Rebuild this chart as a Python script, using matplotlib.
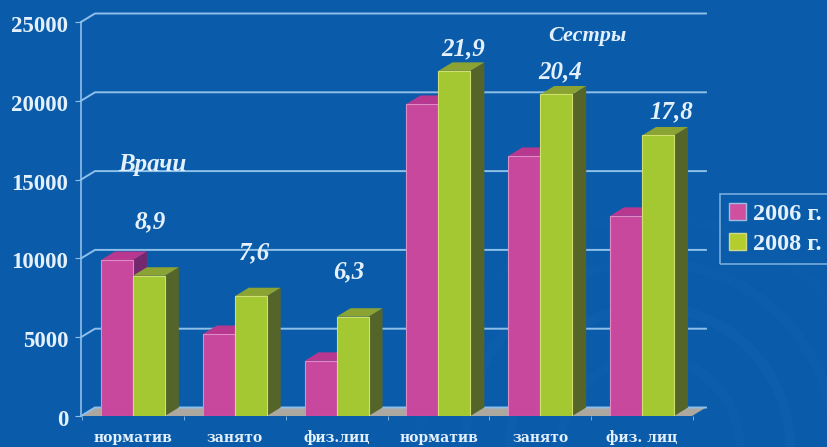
import matplotlib
matplotlib.use('Agg')
import matplotlib.pyplot as plt
from matplotlib.patches import Circle, Patch, Polygon
from matplotlib.transforms import ScaledTranslation

categories = ['норматив', 'занято', 'физ.лиц', 'норматив', 'занято', 'физ. лиц']
values_2006 = [9900, 5200, 3500, 19800, 16500, 12700]
values_2008 = [8900, 7600, 6300, 21900, 20400, 17800]
value_labels = ['8,9', '7,6', '6,3', '21,9', '20,4', '17,8']
y_ticks = [0, 5000, 10000, 15000, 20000, 25000]

W, H = 828, 447
BG = '#0a5cab'
LINE = '#8fc0ea'
TEXT = '#e4f0fb'
SERIF = 'Liberation Serif'
WIDE = 'DejaVu Serif'

# one group = 102 px, one 5000 = 78.8 px, so depth and width are set in data units
bar_w = 32 / 102
dx = 14 / 102
dy = 8.5 / 78.8 * 5000

fig = plt.figure(figsize=(W / 100, H / 100), dpi=100, facecolor=BG)
ax = fig.add_axes([81 / W, 1 - 416 / H, 612 / W, 394 / H])
ax.patch.set_visible(False)
ax.set_xlim(-0.51, 5.49)
ax.set_ylim(0, 25000)

# faint rings in the background, lower right
for r, a in [(90, 0.03), (140, 0.05), (185, 0.035), (230, 0.025)]:
    fig.add_artist(Circle((650, 0), r, transform=None, fill=False,
                          ec='#4f9ad8', lw=7, alpha=a, zorder=0))

# floor and back wall
x0, x1 = ax.get_xlim()
ax.add_patch(Polygon([(x0, 0), (x0 + dx, dy), (x1 + dx, dy), (x1, 0)],
                     fc='#aca79f', ec='none', clip_on=False, zorder=1))
for t in y_ticks:
    ax.plot([x0, x0 + dx, x1 + dx], [t, t + dy, t + dy], color=LINE, lw=1.4,
            clip_on=False, zorder=1.5)


def draw_bar(left, h, front, top, side, edge, z):
    ax.bar(left, h, bar_w, align='edge', color=front, edgecolor=edge, lw=0.8,
           zorder=z + 0.2)
    r = left + bar_w
    ax.add_patch(Polygon([(r, 0), (r + dx, dy), (r + dx, h + dy), (r, h)],
                         fc=side, ec='none', clip_on=False, zorder=z))
    ax.add_patch(Polygon([(left, h), (left + dx, h + dy), (r + dx, h + dy), (r, h)],
                         fc=top, ec='none', clip_on=False, zorder=z + 0.1))


for i in range(len(categories)):
    draw_bar(i - bar_w, values_2006[i], '#c8489e', '#b8388f', '#74286e', '#e08cc4', 2 + i)
    draw_bar(i, values_2008[i], '#a3c832', '#8ba332', '#55652a', '#cfe070', 2.5 + i)

# value labels above the bars
label_x = [0.17, 1.19, 2.12, 3.24, 4.2, 5.29]
label_y = [12310, 10340, 9137, 23290, 21830, 19290]
for x, y, s in zip(label_x, label_y, value_labels):
    ax.text(x, y, s, color=TEXT, family=SERIF, weight='bold', style='italic',
            fontsize=18, ha='center', va='center', zorder=20)
ax.text(0.19, 15930, 'Врачи', color=TEXT, family=SERIF, weight='bold', style='italic',
        fontsize=18, ha='center', va='center', zorder=20)
ax.text(4.46, 24110, 'Сестры', color=TEXT, family=SERIF, weight='bold', style='italic',
        fontsize=16, ha='center', va='center', zorder=20)

for name in ['top', 'right', 'bottom']:
    ax.spines[name].set_visible(False)
ax.spines['left'].set_color(LINE)
ax.spines['left'].set_linewidth(1.2)
ax.spines['left'].set_zorder(1.5)

ax.set_yticks(y_ticks)
ax.set_yticklabels([str(t) for t in y_ticks], family=SERIF, weight='bold', fontsize=16.5)
ax.tick_params(axis='y', colors=TEXT, length=4, pad=5, color=LINE)
# numbers sit a little below their ticks in the reference
shift = ScaledTranslation(0, -2 / 100, fig.dpi_scale_trans)
for lab in ax.get_yticklabels():
    lab.set_transform(lab.get_transform() + shift)

ax.set_xticks(range(len(categories)))
ax.set_xticklabels(categories, family=WIDE, weight='bold', fontsize=10)
for lab in ax.get_xticklabels():
    lab.set_verticalalignment('baseline')
ax.set_xticks([i + 0.5 for i in range(-1, 6)], minor=True)
ax.tick_params(axis='x', which='major', colors=TEXT, length=0, pad=18.5)
ax.tick_params(axis='x', which='minor', color=LINE, length=3)

handles = [Patch(fc='#d0509f', ec='#9dbde0', label='2006 г.'),
           Patch(fc='#b5cc2e', ec='#cfd98a', label='2008 г.')]
leg = fig.legend(handles=handles, loc='upper left', bbox_to_anchor=(720 / W, 1 - 194 / H),
                 prop={'family': SERIF, 'weight': 'bold', 'size': 17.5}, labelcolor=TEXT,
                 frameon=True, facecolor='none', edgecolor=LINE, fancybox=False,
                 handlelength=0.7, handleheight=0.7, handletextpad=0.3,
                 borderpad=0.35, borderaxespad=0, labelspacing=0.35)
leg.get_frame().set_linewidth(1.2)

fig.savefig('out.png', dpi=100, facecolor=BG)
